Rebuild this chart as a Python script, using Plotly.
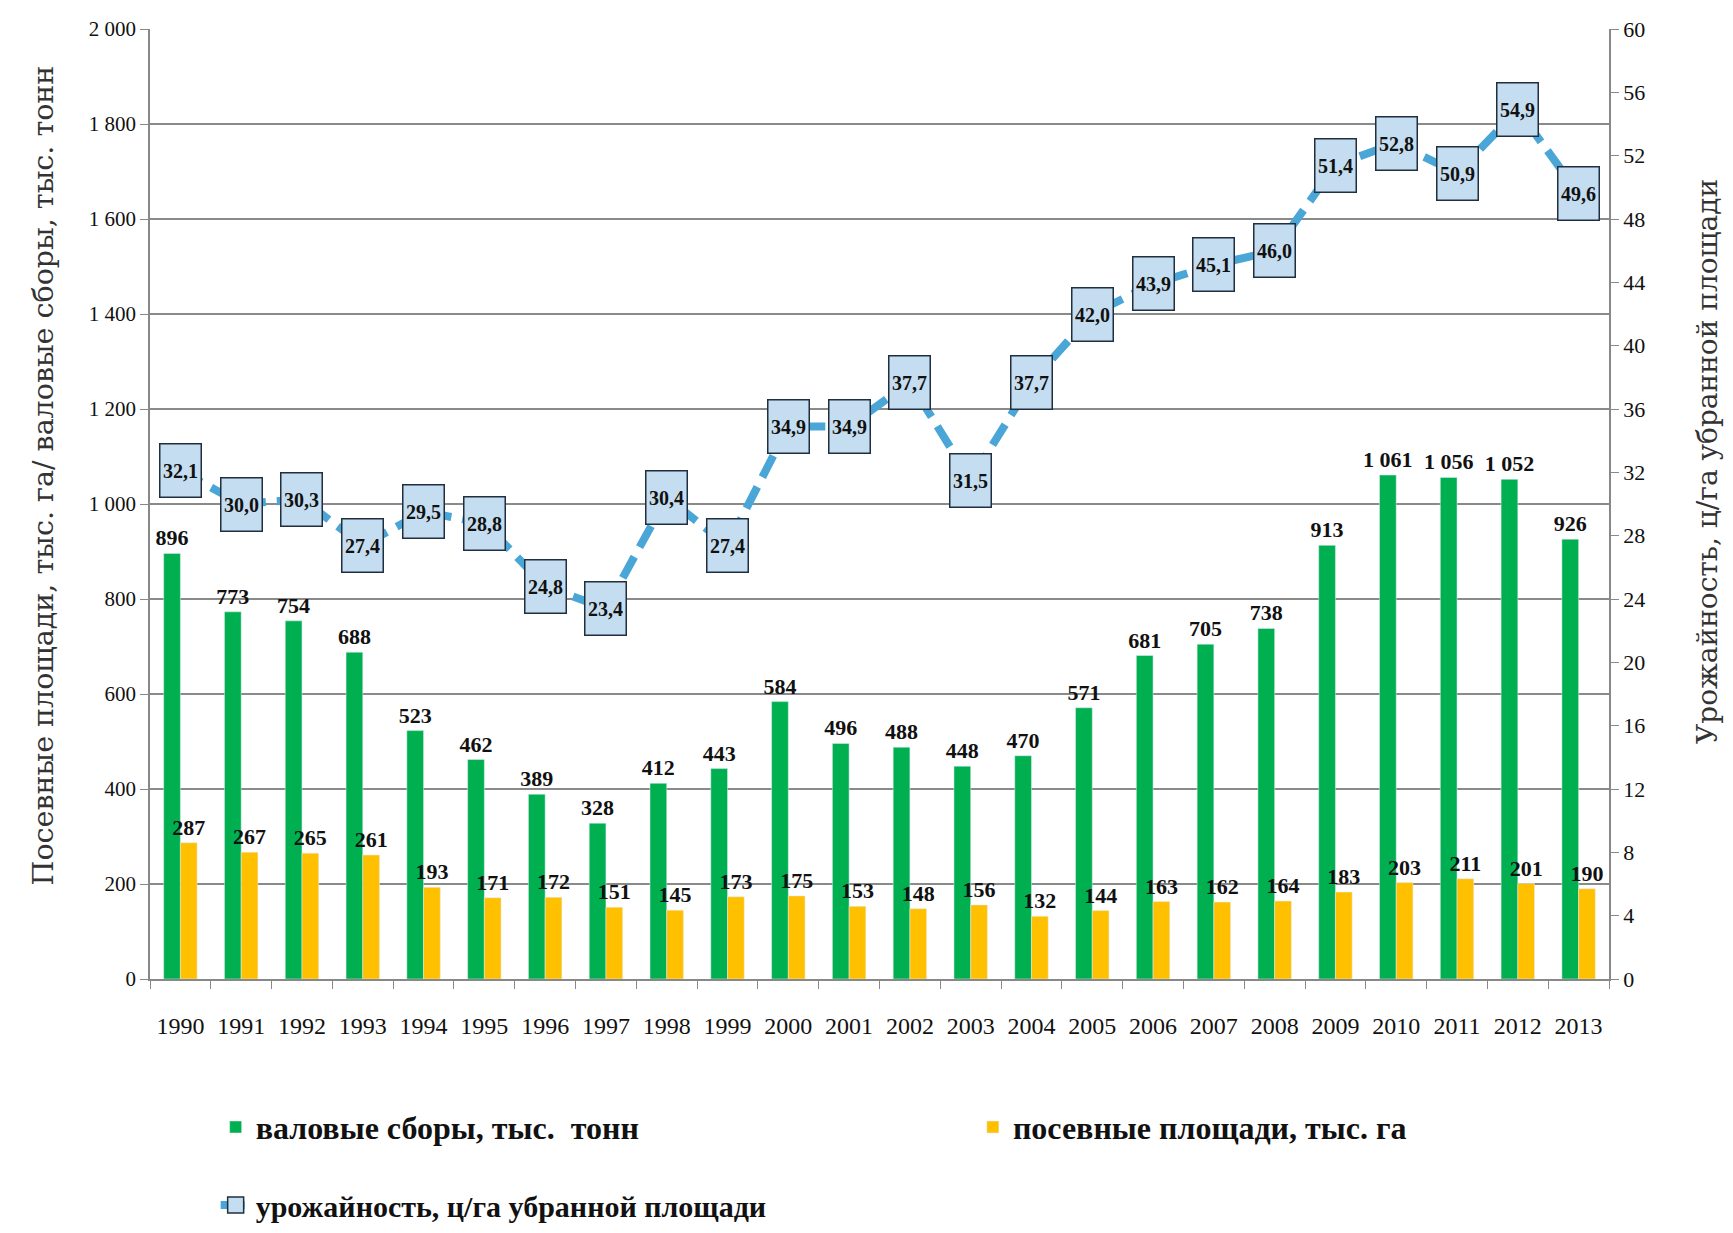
import plotly.graph_objects as go

years = [str(y) for y in range(1990, 2014)]
gross = [896, 773, 754, 688, 523, 462, 389, 328, 412, 443, 584, 496, 488, 448, 470,
         571, 681, 705, 738, 913, 1061, 1056, 1052, 926]
area = [287, 267, 265, 261, 193, 171, 172, 151, 145, 173, 175, 153, 148, 156, 132,
        144, 163, 162, 164, 183, 203, 211, 201, 190]
yield_ = [32.1, 30.0, 30.3, 27.4, 29.5, 28.8, 24.8, 23.4, 30.4, 27.4, 34.9, 34.9, 37.7,
          31.5, 37.7, 42.0, 43.9, 45.1, 46.0, 51.4, 52.8, 50.9, 54.9, 49.6]

left_title = "Посевные площади, тыс. га/ валовые сборы, тыс. тонн"
right_title = "Урожайность, ц/га убранной площади"

SERIF = "Liberation Serif"
GREEN = "#00B050"
YELLOW = "#FFC000"
BLUE = "#4BA6D8"
BOXFILL = "#C5DDF0"
BOXLINE = "#1F2F3F"

fig = go.Figure()
fig.add_trace(go.Bar(
    x=years, y=gross, name="валовые сборы, тыс.  тонн", marker_color=GREEN,
    texttemplate="%{y:,d}", textposition="outside", constraintext="none",
    textfont=dict(family=SERIF, size=22, color="#111", weight="bold"), cliponaxis=False,
    legend="legend"))
fig.add_trace(go.Bar(
    x=years, y=area, name="посевные площади, тыс. га", marker_color=YELLOW,
    texttemplate="%{y:,d}", textposition="outside", constraintext="none",
    textfont=dict(family=SERIF, size=22, color="#111", weight="bold"), cliponaxis=False,
    legend="legend2"))
fig.add_trace(go.Scatter(
    x=years, y=yield_, name="урожайность, ц/га убранной площади", yaxis="y2",
    mode="lines+markers",
    line=dict(color=BLUE, width=8, dash="24px,11px"),
    marker=dict(symbol="square", size=16, color=BOXFILL, line=dict(color=BOXLINE, width=1.5)),
    legend="legend3"))

for i, v in enumerate(yield_):
    fig.add_annotation(
        x=i, y=v, xref="x", yref="y2", text="<b>" + f"{v:.1f}".replace(".", ",") + "</b>",
        showarrow=False, width=40, height=52, bgcolor=BOXFILL,
        bordercolor=BOXLINE, borderwidth=1.5, borderpad=0,
        font=dict(family=SERIF, size=20, color="#111"))

# axis titles
fig.add_annotation(text=left_title, xref="paper", yref="paper", x=-0.0727, y=0.53,
                   xanchor="center", yanchor="middle", textangle=-90, showarrow=False,
                   font=dict(family="DejaVu Serif", size=28.5, color="#333"))
fig.add_annotation(text=right_title, xref="paper", yref="paper", x=1.067, y=0.545,
                   xanchor="center", yanchor="middle", textangle=-90, showarrow=False,
                   font=dict(family="DejaVu Serif", size=28, color="#333"))

legend_font = dict(family=SERIF, size=32, color="#111", weight="bold")

fig.update_layout(
    width=1725, height=1225,
    margin=dict(l=142, r=124, t=21, b=254, autoexpand=False),
    paper_bgcolor="white", plot_bgcolor="white",
    separators=", ",
    barmode="group", bargap=0.45, bargroupgap=0.0,
    font=dict(family=SERIF, color="#111"),
    xaxis=dict(type="category", range=[-0.5, len(years) - 0.5], tickson="boundaries",
               ticks="outside", ticklen=8, tickangle=0, ticklabelstandoff=24,
               tickcolor="#888", showline=True, linecolor="#888", linewidth=1.5,
               tickfont=dict(family=SERIF, size=24, color="#111"), showgrid=False),
    yaxis=dict(range=[0, 2000], dtick=200, tickformat=",d", showgrid=True,
               gridcolor="#8a8a8a", gridwidth=1.5, showline=True, linecolor="#888",
               linewidth=1.5, ticks="outside", ticklen=8, tickcolor="#888",
               tickfont=dict(family=SERIF, size=21, color="#111"), zeroline=False),
    yaxis2=dict(range=[0, 60], dtick=4, overlaying="y", side="right", showgrid=False,
                showline=True, linecolor="#888", linewidth=1.5, ticks="outside",
                ticklen=8, tickcolor="#888", zeroline=False,
                tickfont=dict(family=SERIF, size=22, color="#111")),
    legend=dict(orientation="h", x=0.045, y=-0.156, xanchor="left", yanchor="middle",
                font=legend_font, bgcolor="rgba(0,0,0,0)"),
    legend2=dict(orientation="h", x=0.564, y=-0.156, xanchor="left", yanchor="middle",
                 font=legend_font, bgcolor="rgba(0,0,0,0)"),
    legend3=dict(orientation="h", x=0.045, y=-0.238, xanchor="left", yanchor="middle",
                 font=dict(family=SERIF, size=30, color="#111", weight="bold"),
                 bgcolor="rgba(0,0,0,0)"),
    showlegend=True,
)

fig.write_html("out.html")
